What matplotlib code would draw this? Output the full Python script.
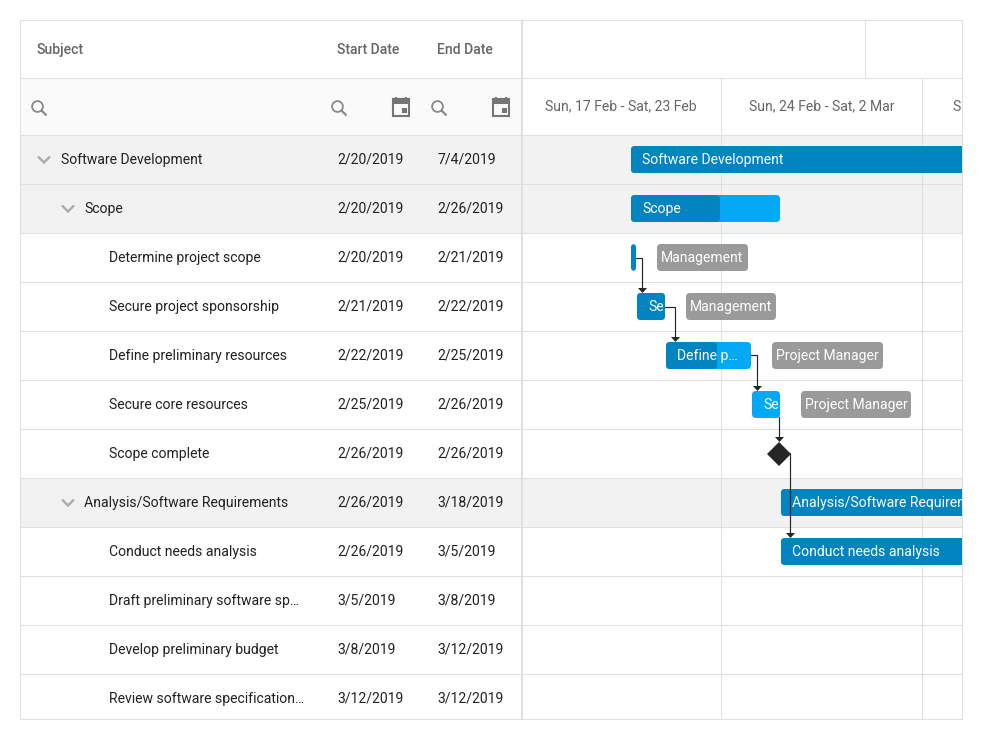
import matplotlib
matplotlib.use("Agg")
import matplotlib.pyplot as plt
from matplotlib.patches import FancyBboxPatch, Rectangle, Circle

plt.rcParams['font.family'] = ['Roboto', 'DejaVu Sans']

# ---- table data
subjects = ["Software Development", "Scope", "Determine project scope", "Secure project sponsorship",
            "Define preliminary resources", "Secure core resources", "Scope complete",
            "Analysis/Software Requirements", "Conduct needs analysis", "Draft preliminary software sp…",
            "Develop preliminary budget", "Review software specification…"]
depths = [0, 1, 2, 2, 2, 2, 2, 1, 2, 2, 2, 2]
start_dates = ["2/20/2019", "2/20/2019", "2/20/2019", "2/21/2019", "2/22/2019", "2/25/2019", "2/26/2019",
               "2/26/2019", "2/26/2019", "3/5/2019", "3/8/2019", "3/12/2019"]
end_dates = ["7/4/2019", "2/26/2019", "2/21/2019", "2/22/2019", "2/25/2019", "2/26/2019", "2/26/2019",
             "3/18/2019", "3/5/2019", "3/8/2019", "3/12/2019", "3/12/2019"]
parents = [0, 1, 7]
headers = ["Subject", "Start Date", "End Date"]
weeks = ["Sun, 17 Feb - Sat, 23 Feb", "Sun, 24 Feb - Sat, 2 Mar", "Sun, 3 Mar - Sat, 9 Mar"]
week_days = [0, 7, 14]
month_days = [12.02]

# ---- bars: positions in days after Sunday 17 Feb
bar_rows = [0, 1, 2, 3, 4, 5, 7, 8]
bar_start = [3.866, 3.866, 3.866, 4.075, 5.085, 8.081, 9.091, 9.091]
bar_end = [137.5, 9.056, 4.04, 5.05, 8.046, 9.056, 29.5, 16.5]
bar_prog = [137.5, 6.966, 4.04, 5.05, 6.862, 8.081, 29.5, 16.5]
bar_text = ["Software Development", "Scope", "", "Se", "Define p…", "Se",
            "Analysis/Software Requirements", "Conduct needs analysis"]

res_rows = [2, 3, 4, 5]
res_names = ["Management", "Management", "Project Manager", "Project Manager"]
res_start = [4.772, 5.782, 8.777, 9.788]
res_end = [7.941, 8.917, 12.644, 13.619]

milestone_row = 6
milestone_day = 9.02

# links: (from row, x day of the vertical run)
link_from = [2, 3, 4]
link_day = [4.25, 5.40, 8.25]

DAY = 28.71
X0 = 520.0
ROW = 49.0
TOP = 135.5
LINE = '#e0e0e0'

fig = plt.figure(figsize=(9.83, 7.40), dpi=100)
tb = fig.add_axes([0, 0, 1, 1], zorder=0)
tb.set_xlim(0, 983)
tb.set_ylim(740, 0)
tb.axis('off')

# gantt axes: x in days, y in rows (row 0 top edge = 0)
L, R, T, B = 522.5, 962.0, 21.0, 719.5
g = fig.add_axes([L / 983, (740 - B) / 740, (R - L) / 983, (B - T) / 740], zorder=1)
g.set_xlim((L - X0) / DAY, (R - X0) / DAY)
g.set_ylim((B - TOP) / ROW, (T - TOP) / ROW)
g.axis('off')
g.patch.set_alpha(0)

FS = 10.08
BASE = 28.3  # baseline below row top, px


def row_base(i):
    return TOP + ROW * i + BASE


# --- backgrounds
tb.add_patch(Rectangle((20.5, 78.5), 501, 57, fc='#fafafa', ec='none'))
for i in parents:
    tb.add_patch(Rectangle((20.5, TOP + ROW * i), 942, ROW, fc='#f2f2f2', ec='none'))
for i in range(len(subjects)):
    tb.plot([20, 962], [TOP - 0.5 + ROW * i] * 2, color=LINE, lw=0.75, solid_capstyle='butt')
tb.plot([20, 962], [78, 78], color=LINE, lw=0.75, solid_capstyle='butt')

# --- frame
tb.plot([20, 962, 962, 20, 20], [20, 20, 719, 719, 20], color=LINE, lw=0.75)
tb.plot([521.8, 521.8], [20, 719], color=LINE, lw=1.5, solid_capstyle='butt')

# --- table header
for x, h in zip([36.6, 337, 437], headers):
    tb.text(x, 54, h, fontsize=FS, fontweight=500, color='#666666', va='baseline', ha='left')


def search(x, y):
    tb.add_patch(Circle((x, y), 5.4, fc='none', ec='#8a8a8a', lw=1.3))
    tb.plot([x + 3.8, x + 9], [y + 3.8, y + 9], color='#8a8a8a', lw=1.6, solid_capstyle='butt')


def calendar(x, y):
    tb.add_patch(Rectangle((x + 1, y + 1.5), 16, 16.5, fc='none', ec='#757575', lw=1.5))
    tb.add_patch(Rectangle((x, y + 1), 18, 5, fc='#757575', ec='none'))
    for dx in (4, 14):
        tb.add_patch(Rectangle((x + dx - 1, y - 1), 2, 3, fc='#757575', ec='none'))
    tb.add_patch(Rectangle((x + 9.5, y + 10.5), 5, 4.5, fc='#757575', ec='none'))


for x in (38, 338, 438):
    search(x - 0.5, 106.5)
for x in (392, 492):
    calendar(x, 97.5)

# --- table rows
for i, (s, d, a, b) in enumerate(zip(subjects, depths, start_dates, end_dates)):
    y = row_base(i)
    tb.text(61 + 24 * d - (0.5 if d == 1 else 0), y, s, fontsize=FS, color='#212121', va='baseline', ha='left')
    tb.text(337, y, a, fontsize=FS, color='#212121', va='baseline', ha='left')
    tb.text(437, y, b, fontsize=FS, color='#212121', va='baseline', ha='left')
    if i in parents:
        cx = 44 + 24 * d
        ym = TOP + ROW * i + 24
        tb.plot([cx - 6, cx, cx + 6], [ym - 3, ym + 3, ym - 3], color='#ababab', lw=1.7,
                solid_joinstyle='miter', solid_capstyle='butt')

# --- gantt grid & header
for d in week_days[1:]:
    g.axvline(d, ymin=0, ymax=(B - 78) / (B - T), color=LINE, lw=0.75, zorder=1)
for m in month_days:
    g.plot([m, m], [(T - TOP) / ROW, (78 - TOP) / ROW], color=LINE, lw=0.75, zorder=1)
for d, w in zip(week_days, weeks):
    g.text(d + 3.5, (110.3 - TOP) / ROW, w, fontsize=FS, color='#666666', va='baseline', ha='center', clip_on=True)

RX = 4 / DAY
ASP = DAY / ROW
H = 27 / ROW
MID = 24.0 / ROW


def rbar(x0, x1, i, color, z):
    p = FancyBboxPatch((x0 + RX, i + MID - H / 2 + RX * ASP), x1 - x0 - 2 * RX, H - 2 * RX * ASP,
                       boxstyle=f"round,pad={RX},rounding_size={RX}", mutation_aspect=ASP,
                       fc=color, ec='none', zorder=z)
    g.add_patch(p)
    return p


DARK, LIGHT, GREY, INK = '#0284c0', '#03a9f4', '#9a9a9a', '#262626'

for r, a, e, pr, t in zip(bar_rows, bar_start, bar_end, bar_prog, bar_text):
    base = rbar(a, e, r, LIGHT, 3)
    if pr > a + 0.05:
        rbar(a, pr, r, DARK, 4)
    if t:
        txt = g.text(a + 11 / DAY, r + BASE / ROW, t, fontsize=FS, color='white', va='baseline', ha='left', zorder=5)
        txt.set_clip_path(base)

for r, a, e, n in zip(res_rows, res_start, res_end, res_names):
    rbar(a, e, r, GREY, 3)
    g.text((a + e) / 2, r + BASE / ROW, n, fontsize=FS, color='white', va='baseline', ha='center', zorder=5)

# --- milestone
g.plot([milestone_day], [milestone_row + MID + 0.2 / ROW], marker='D', ms=12.4, color=INK, mew=0, zorder=5)

# --- links
HEAD = [(-4.5, 2.5), (4.5, 2.5), (0, -2.5), (-4.5, 2.5)]


def arrow(x, y):
    g.plot([x], [y - 2.8 / ROW], marker=HEAD, ms=6.5, color=INK, mew=0, zorder=6, clip_on=False)


for r, x in zip(link_from, link_day):
    e = bar_end[bar_rows.index(r)]
    tip = r + 1 + MID - H / 2
    g.plot([e, x, x], [r + MID, r + MID, tip - 3 / ROW], color=INK, lw=0.85, zorder=2, solid_joinstyle='miter')
    arrow(x, tip)

# secure core -> milestone
mx = milestone_day
ms_top = milestone_row + MID + 0.2 / ROW - 11.5 / ROW
g.plot([mx, mx], [5 + MID + H / 2 - 1 / ROW, ms_top - 3 / ROW], color=INK, lw=0.85, zorder=2)
arrow(mx, ms_top)

# milestone -> conduct needs analysis
mr = milestone_day + 11.5 / DAY
tip = 8 + MID - H / 2
g.plot([mr, mr], [milestone_row + MID, tip - 3 / ROW], color=INK, lw=0.85, zorder=6)
arrow(mr, tip)

fig.savefig("out.png", dpi=100)
